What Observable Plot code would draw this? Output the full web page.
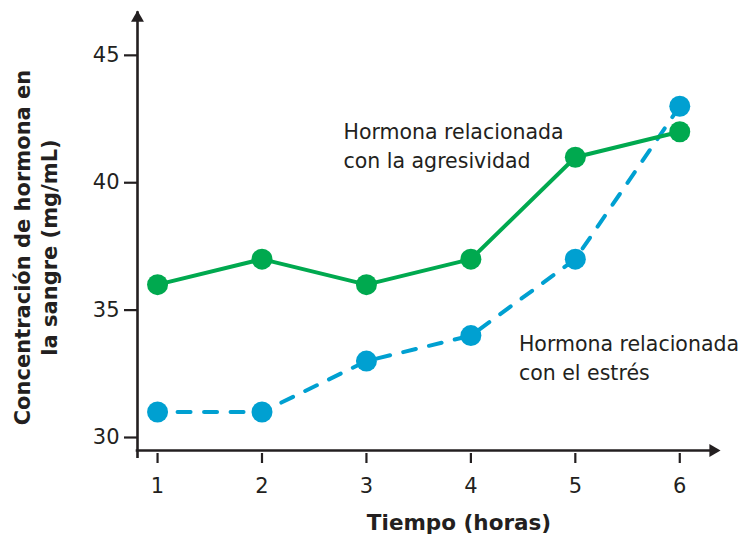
<!DOCTYPE html>
<html>
<head>
<meta charset="utf-8">
<script src="https://cdn.jsdelivr.net/npm/d3@7"></script>
<script src="https://cdn.jsdelivr.net/npm/@observablehq/plot@0.6"></script>
<style>
  html, body { margin: 0; padding: 0; background: #fff; }
  #chart svg { display: block; }
</style>
</head>
<body>
<div id="chart"></div>
<script>
// ---- data ----
const hours = [1, 2, 3, 4, 5, 6];
const aggression = [36, 37, 36, 37, 41, 42];
const stress = [31, 31, 33, 34, 37, 43];
const xTicks = [1, 2, 3, 4, 5, 6];
const yTicks = [30, 35, 40, 45];
const seriesLabels = [
  {text: "Hormona relacionada\ncon la agresividad", x: 2.78, y: 42.52, color: "#231f20"},
  {text: "Hormona relacionada\ncon el estrés", x: 4.46, y: 34.2, color: "#231f20"}
];
const yTitle = "Concentración de hormona en\nla sangre (mg/mL)";
const xTitle = "Tiempo (horas)";

// ---- scale settings ----
const xDomain = [0.808, 6.39];
const yDomain = [29.49, 46.76];
const ink = "#231f20";
const green = "#00a94f";
const blue = "#00a0d1";
const font = "DejaVu Sans, Verdana, sans-serif";

const aggr = hours.map((h, i) => ({x: h, y: aggression[i]}));
const strs = hours.map((h, i) => ({x: h, y: stress[i]}));

const chart = Plot.plot({
  width: 745,
  height: 535,
  marginLeft: 137,
  marginRight: 25,
  marginTop: 10,
  marginBottom: 85,
  style: {fontFamily: font, color: ink, background: "#fff"},
  x: {domain: xDomain},
  y: {domain: yDomain},
  marks: [
    // axis lines
    Plot.ruleX([xDomain[0]], {y1: yDomain[0], y2: yDomain[1], insetTop: 8, insetBottom: -1.3, stroke: ink, strokeWidth: 2.6}),
    Plot.ruleY([yDomain[0]], {x1: xDomain[0], x2: xDomain[1], insetRight: 8, insetLeft: -1.3, stroke: ink, strokeWidth: 2.6}),
    // arrow heads
    Plot.dot([{x: xDomain[0], y: yDomain[1]}], {x: "x", y: "y", symbol: "triangle", r: 4.8, fill: ink, stroke: null, dy: 7.4}),
    Plot.dot([{x: xDomain[1], y: yDomain[0]}], {x: "x", y: "y", symbol: "triangle", r: 4.8, fill: ink, stroke: null, rotate: 90, dx: -7.4}),
    // ticks & tick labels
    Plot.axisY({ticks: yTicks, tickFormat: d3.format("d"), tickSize: 13, tickPadding: 5, strokeWidth: 2.2, stroke: ink, fontSize: 21, fill: ink, label: null}),
    Plot.axisX({ticks: xTicks, tickFormat: d3.format("d"), tickSize: 10, tickPadding: 15, dy: 3, strokeWidth: 2.2, stroke: ink, fontSize: 21, fill: ink, label: null}),
    // series
    Plot.line(strs, {x: "x", y: "y", stroke: blue, strokeWidth: 4, strokeDasharray: "13,13.5", strokeDashoffset: 6.5}),
    Plot.line(aggr, {x: "x", y: "y", stroke: green, strokeWidth: 4}),
    Plot.dot(strs, {x: "x", y: "y", r: 10.5, fill: blue}),
    Plot.dot(aggr, {x: "x", y: "y", r: 10.5, fill: green}),
    // series labels
    Plot.text(seriesLabels, {x: "x", y: "y", text: "text", fill: "color", textAnchor: "start", lineAnchor: "top", fontSize: 20.5, lineHeight: 1.42}),
    // axis titles
    Plot.text([yTitle], {frameAnchor: "left", textAnchor: "middle", dx: -103, dy: 17, rotate: -90, fontSize: 21, fontWeight: "bold", lineAnchor: "middle", lineHeight: 1.3, fill: ink}),
    Plot.text([xTitle], {frameAnchor: "bottom", dx: 30, dy: 79, lineAnchor: "bottom", fontSize: 21.5, fontWeight: "bold", fill: ink})
  ]
});
document.getElementById("chart").append(chart);
</script>
</body>
</html>
